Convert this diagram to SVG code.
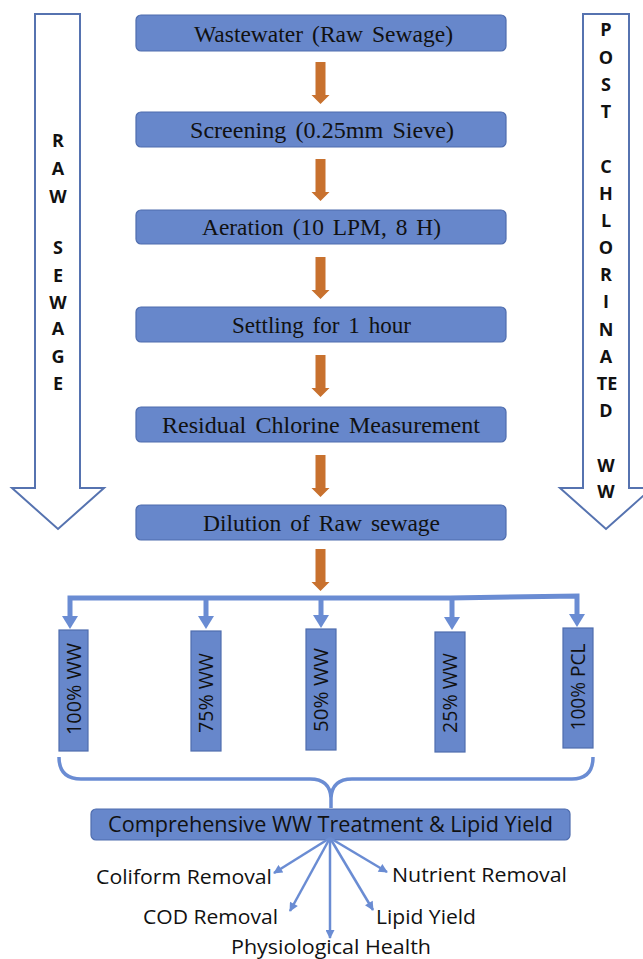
<svg xmlns="http://www.w3.org/2000/svg" width="643" height="959" viewBox="0 0 643 959">
<style>
.box{fill:#6787CB;stroke:#4F6DAE;stroke-width:1.2}
.bt{font-family:"Liberation Serif","Times New Roman",serif;font-size:22.5px;fill:#111;text-anchor:start;word-spacing:3px}
.big{fill:#fff;stroke:#5673B0;stroke-width:2}
.lt{font-family:"Open Sans","Liberation Sans",sans-serif;font-weight:bold;font-size:18px;fill:#111;text-anchor:middle}
.vt{font-family:"Open Sans","Liberation Sans",sans-serif;font-size:20px;fill:#111;text-anchor:middle}
.ct{font-family:"Open Sans","Liberation Sans",sans-serif;font-size:21px;fill:#111}
.ot{font-family:"Open Sans","Liberation Sans",sans-serif;font-size:20px;fill:#111}
.bl{fill:none;stroke:#6A8CD3;stroke-width:5}
.fan{fill:none;stroke:#6A8CD3;stroke-width:2.5;marker-end:url(#ah)}
.drop{fill:#6A8CD3}
.org{fill:#C8712E}
</style>
<defs>
<path id="oarr" d="M-5,0 H5 V33 H9 L0,42 L-9,33 H-5 Z"/>
<marker id="ah" viewBox="0 0 10 10" refX="9" refY="5" markerWidth="4" markerHeight="3.6" orient="auto" markerUnits="strokeWidth">
<path d="M0,0 L10,5 L0,10 Z" fill="#6A8CD3"/>
</marker>
</defs>
<rect width="643" height="959" fill="#fff"/>

<g id="raw-sewage-arrow">
<polygon class="big" points="35,14 80,14 80,488 104,488 58,529 12,488 35,488"/>
<text class="lt"><tspan x="58" y="147">R</tspan><tspan x="58" y="175">A</tspan><tspan x="58" y="203">W</tspan><tspan x="58" y="254">S</tspan><tspan x="58" y="282">E</tspan><tspan x="58" y="309">W</tspan><tspan x="58" y="335">A</tspan><tspan x="58" y="363">G</tspan><tspan x="58" y="390">E</tspan></text>
</g>

<g id="post-chlorinated-arrow">
<polygon class="big" points="583,14 629,14 629,488 652,488 606,529 560,488 583,488"/>
<text class="lt"><tspan x="606" y="36">P</tspan><tspan x="606" y="64">O</tspan><tspan x="606" y="91">S</tspan><tspan x="606" y="118">T</tspan><tspan x="606" y="173">C</tspan><tspan x="606" y="200">H</tspan><tspan x="606" y="227">L</tspan><tspan x="606" y="254">O</tspan><tspan x="606" y="281">R</tspan><tspan x="606" y="308">I</tspan><tspan x="606" y="336">N</tspan><tspan x="606" y="363">A</tspan><tspan x="607" y="390">TE</tspan><tspan x="606" y="417">D</tspan><tspan x="606" y="472">W</tspan><tspan x="606" y="498">W</tspan></text>
</g>

<g id="n-wastewater"><rect class="box" x="136" y="15" width="370" height="36" rx="5"/><text class="bt" x="194" y="42" textLength="259" lengthAdjust="spacingAndGlyphs">Wastewater (Raw Sewage)</text></g>
<g id="n-screening"><rect class="box" x="136" y="112" width="370" height="35" rx="5"/><text class="bt" x="190" y="138" textLength="264" lengthAdjust="spacingAndGlyphs">Screening (0.25mm Sieve)</text></g>
<g id="n-aeration"><rect class="box" x="136" y="210" width="370" height="34" rx="5"/><text class="bt" x="202" y="235" textLength="239" lengthAdjust="spacingAndGlyphs">Aeration (10 LPM, 8 H)</text></g>
<g id="n-settling"><rect class="box" x="136" y="307" width="370" height="35" rx="5"/><text class="bt" x="232" y="333" textLength="179" lengthAdjust="spacingAndGlyphs">Settling for 1 hour</text></g>
<g id="n-residual"><rect class="box" x="136" y="407" width="370" height="35" rx="5"/><text class="bt" x="162" y="433" textLength="318" lengthAdjust="spacingAndGlyphs">Residual Chlorine Measurement</text></g>
<g id="n-dilution"><rect class="box" x="136" y="505" width="370" height="35" rx="5"/><text class="bt" x="203" y="531" textLength="237" lengthAdjust="spacingAndGlyphs">Dilution of Raw sewage</text></g>

<g id="n-100ww"><rect class="box" x="59" y="630" width="29" height="121"/><text class="vt" transform="translate(73.5,689) rotate(-90)" x="0" y="7" textLength="92" lengthAdjust="spacingAndGlyphs">100% WW</text></g>
<g id="n-75ww"><rect class="box" x="191" y="631" width="30" height="120"/><text class="vt" transform="translate(206,693) rotate(-90)" x="0" y="7" textLength="80" lengthAdjust="spacingAndGlyphs">75% WW</text></g>
<g id="n-50ww"><rect class="box" x="306" y="629" width="30" height="121"/><text class="vt" transform="translate(321,690) rotate(-90)" x="0" y="7" textLength="84" lengthAdjust="spacingAndGlyphs">50% WW</text></g>
<g id="n-25ww"><rect class="box" x="435" y="632" width="30" height="120"/><text class="vt" transform="translate(450,693) rotate(-90)" x="0" y="7" textLength="80" lengthAdjust="spacingAndGlyphs">25% WW</text></g>
<g id="n-100pcl"><rect class="box" x="563" y="628" width="30" height="120"/><text class="vt" transform="translate(578,687) rotate(-90)" x="0" y="7" textLength="87" lengthAdjust="spacingAndGlyphs">100% PCL</text></g>

<g id="n-comprehensive"><rect class="box" x="91" y="809" width="479" height="31" rx="5"/><text class="ct" x="108" y="832" textLength="445" lengthAdjust="spacingAndGlyphs">Comprehensive  WW Treatment &amp; Lipid Yield</text></g>

<g id="outcomes">
<text class="ot" x="96" y="884" textLength="176" lengthAdjust="spacingAndGlyphs">Coliform Removal</text>
<text class="ot" x="392" y="882" textLength="175" lengthAdjust="spacingAndGlyphs">Nutrient Removal</text>
<text class="ot" x="143" y="924" textLength="135" lengthAdjust="spacingAndGlyphs">COD Removal</text>
<text class="ot" x="376" y="924" textLength="100" lengthAdjust="spacingAndGlyphs">Lipid Yield</text>
<text class="ot" x="231" y="954" textLength="200" lengthAdjust="spacingAndGlyphs">Physiological Health</text>
</g>

<g id="connectors">
<use href="#oarr" class="org" transform="translate(320.5,62)"/>
<use href="#oarr" class="org" transform="translate(320.5,159)"/>
<use href="#oarr" class="org" transform="translate(320.5,257)"/>
<use href="#oarr" class="org" transform="translate(320.5,355)"/>
<use href="#oarr" class="org" transform="translate(320.5,455)"/>
<use href="#oarr" class="org" transform="translate(320.5,549)"/>
<path class="bl" d="M70,618 V598 H450 L577,596 V618"/>
<path class="bl" d="M206,598 V618 M321,598 V618 M452,598 V618"/>
<polygon class="drop" points="62,616 78,616 70,629"/>
<polygon class="drop" points="198,616 214,616 206,629"/>
<polygon class="drop" points="313,615 329,615 321,628"/>
<polygon class="drop" points="444,617 460,617 452,630"/>
<polygon class="drop" points="569,614 585,614 577,627"/>
<path d="M59,757 Q59,779 81,779 H310 Q330,779 331,798 V808 M331,798 Q332,779 352,779 H572 Q593,779 593,757" fill="none" stroke="#6A8CD3" stroke-width="3.5"/>
<path class="fan" d="M330,838 L274,873"/>
<path class="fan" d="M330,838 L290,911"/>
<path class="fan" d="M330,838 L330,938"/>
<path class="fan" d="M330,838 L373,910"/>
<path class="fan" d="M330,838 L387,872"/>
</g>
</svg>
